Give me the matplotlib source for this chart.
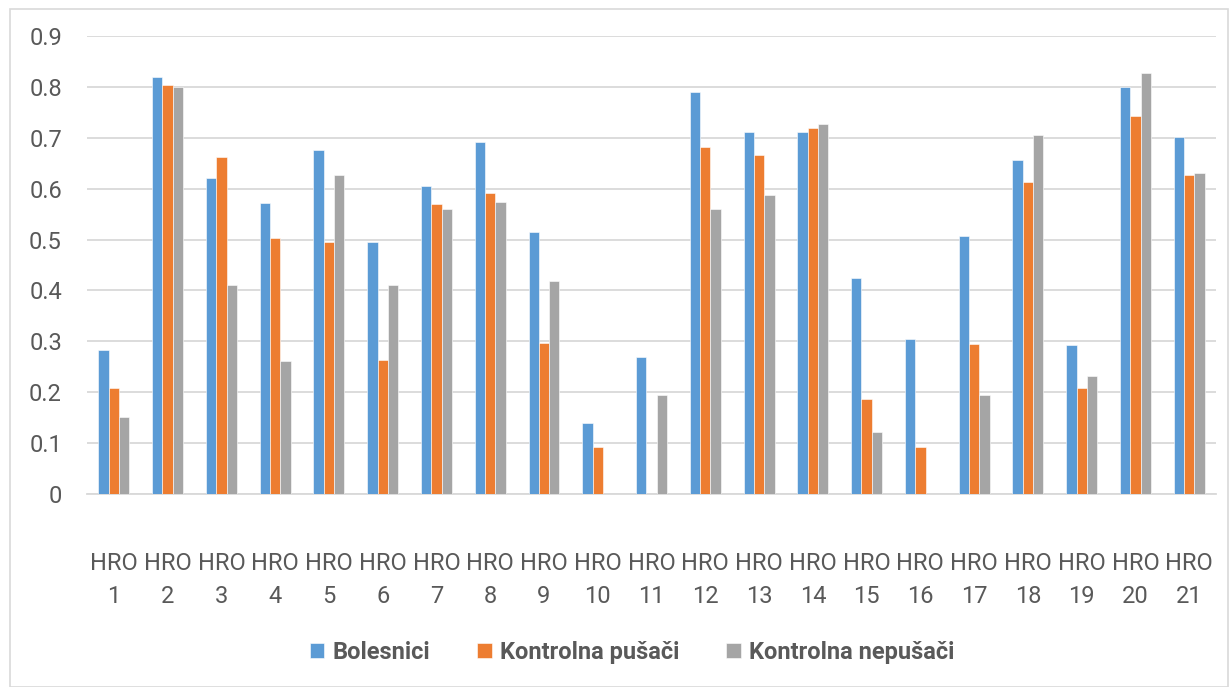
import matplotlib.pyplot as plt
import matplotlib.patches as mpatches
import numpy as np

# ── data ──────────────────────────────────────────────────────────────────────
categories = [f"HRO\n{i}" for i in range(1, 22)]

bolesnici = [0.282, 0.819, 0.621, 0.571, 0.677, 0.496, 0.605, 0.692, 0.515, 0.140, 0.269,
             0.791, 0.711, 0.711, 0.424, 0.305, 0.508, 0.657, 0.293, 0.799, 0.702]
kontrolna_pusaci = [0.208, 0.804, 0.662, 0.504, 0.495, 0.264, 0.569, 0.591, 0.296, 0.093, 0.0,
                    0.681, 0.667, 0.719, 0.187, 0.093, 0.295, 0.614, 0.208, 0.743, 0.627]
kontrolna_nepusaci = [0.151, 0.799, 0.410, 0.262, 0.626, 0.410, 0.561, 0.574, 0.419, 0.0, 0.195,
                      0.561, 0.588, 0.728, 0.122, 0.0, 0.195, 0.706, 0.231, 0.827, 0.631]

series = [("Bolesnici", bolesnici, "#5B9BD5"),
          ("Kontrolna pušači", kontrolna_pusaci, "#ED7D31"),
          ("Kontrolna nepušači", kontrolna_nepusaci, "#A5A5A5")]

TEXT = "#595959"
plt.rcParams["font.family"] = ["Roboto", "DejaVu Sans"]

fig = plt.figure(figsize=(12.3, 6.87), dpi=100)
ax = fig.add_axes([0.0707, 0.281, 0.918, 0.6665])

# thin frame round the whole chart
fig.patches.append(mpatches.Rectangle((0.008, 0.0), 0.99, 0.987, transform=fig.transFigure,
                                      fill=False, edgecolor="#D9D9D9", lw=1.2))

x = np.arange(len(categories))
width = 0.192
for k, (name, vals, col) in enumerate(series):
    ax.bar(x + (k - 1) * width, vals, width, color=col, label=name,
           edgecolor="white", linewidth=0.4, zorder=3)

ax.set_xlim(-0.5, len(categories) - 0.5)
ax.set_ylim(0, 0.9)
ax.set_yticks(np.arange(0, 0.91, 0.1))
ax.set_yticklabels(["0"] + [f"{v:.1f}" for v in np.arange(0.1, 0.91, 0.1)])
ax.yaxis.grid(True, color="#D9D9D9", lw=1.3, zorder=0)
ax.set_axisbelow(True)
for s in ["top", "right", "left"]:
    ax.spines[s].set_visible(False)
ax.spines["bottom"].set_color("#D9D9D9")
ax.spines["bottom"].set_linewidth(1.3)

ax.set_xticks(x)
ax.set_xticklabels(categories, fontsize=17, color=TEXT, linespacing=1.55)
ax.tick_params(axis="x", length=0, pad=42)
ax.tick_params(axis="y", length=0, pad=18, labelsize=17, labelcolor=TEXT)

leg = fig.legend(loc="center", bbox_to_anchor=(0.514, 0.05), ncol=3, frameon=False,
                 prop={"size": 17, "weight": "bold"}, handlelength=0.6, handleheight=0.6,
                 handletextpad=0.35, columnspacing=2.0)
for t in leg.get_texts():
    t.set_color(TEXT)

fig.savefig("out.png", dpi=100)
